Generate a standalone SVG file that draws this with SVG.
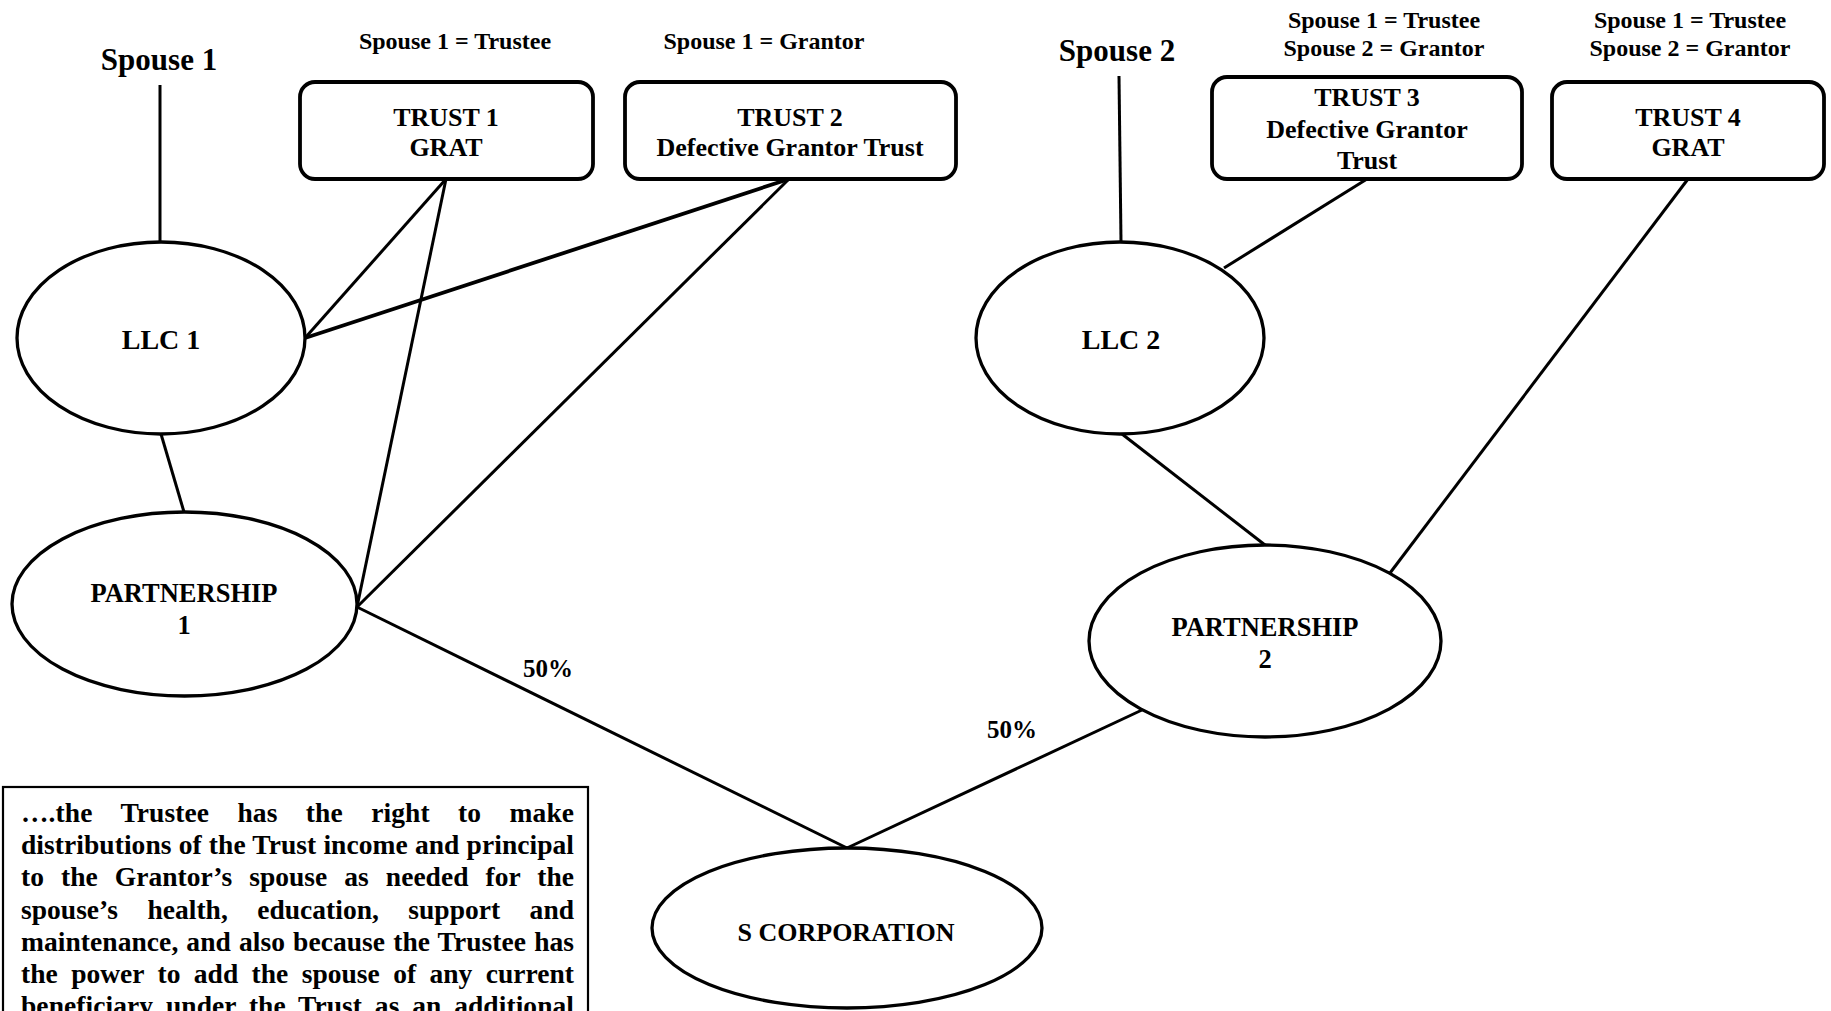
<svg xmlns="http://www.w3.org/2000/svg" width="1831" height="1011" viewBox="0 0 1831 1011">
  <style>
    .t { font-family: "Liberation Serif", "Times New Roman", serif; font-weight: bold; fill: #000; }
    .c { text-anchor: middle; }
    .box { fill: #fff; stroke: #000; stroke-width: 3.8; }
    .node { fill: #fff; stroke: #000; stroke-width: 3.3; }
    .edge { stroke: #000; stroke-width: 3; fill: none; }
    .note { fill: #fff; stroke: #000; stroke-width: 2.2; }
  </style>
  <rect width="1831" height="1011" fill="#fff"/>

  <!-- ownership connectors -->
  <g id="connectors">
    <line class="edge" x1="160" y1="85" x2="160" y2="242"/>
    <line class="edge" x1="1119" y1="76" x2="1121" y2="242"/>
    <line class="edge" x1="161" y1="434" x2="184" y2="512"/>
    <line class="edge" x1="446" y1="179" x2="305" y2="338"/>
    <line class="edge" x1="446" y1="179" x2="357" y2="607"/>
    <line class="edge" x1="789" y1="179" x2="305" y2="338" style="stroke-width:3.8"/>
    <line class="edge" x1="789" y1="179" x2="357" y2="607"/>
    <line class="edge" x1="1367" y1="179" x2="1224" y2="268"/>
    <line class="edge" x1="1688" y1="179" x2="1390" y2="573"/>
    <line class="edge" x1="1122" y1="434" x2="1265" y2="545"/>
    <line class="edge" x1="357" y1="607" x2="847" y2="848"/>
    <line class="edge" x1="1142" y1="710" x2="847" y2="848"/>
    <text class="t c" x="548" y="677" font-size="25">50%</text>
    <text class="t c" x="1012" y="738" font-size="25">50%</text>
  </g>

  <g id="spouse1">
    <text class="t c" x="159" y="70" font-size="31">Spouse 1</text>
  </g>

  <g id="trust1">
    <text class="t c" x="455" y="49" font-size="24">Spouse 1 = Trustee</text>
    <rect class="box" x="300" y="82" width="293" height="97" rx="15"/>
    <text class="t c" x="446" y="126" font-size="26">TRUST 1</text>
    <text class="t c" x="446" y="156" font-size="26">GRAT</text>
  </g>

  <g id="trust2">
    <text class="t c" x="764" y="49" font-size="24">Spouse 1 = Grantor</text>
    <rect class="box" x="625" y="82" width="331" height="97" rx="15"/>
    <text class="t c" x="790" y="126" font-size="26">TRUST 2</text>
    <text class="t c" x="790" y="156" font-size="26">Defective Grantor Trust</text>
  </g>

  <g id="spouse2">
    <text class="t c" x="1117" y="61" font-size="31">Spouse 2</text>
  </g>

  <g id="trust3">
    <text class="t c" x="1384" y="28" font-size="24">Spouse 1 = Trustee</text>
    <text class="t c" x="1384" y="56" font-size="24">Spouse 2 = Grantor</text>
    <rect class="box" x="1212" y="77" width="310" height="102" rx="15"/>
    <text class="t c" x="1367" y="106" font-size="26">TRUST 3</text>
    <text class="t c" x="1367" y="138" font-size="26">Defective Grantor</text>
    <text class="t c" x="1367" y="169" font-size="26">Trust</text>
  </g>

  <g id="trust4">
    <text class="t c" x="1690" y="28" font-size="24">Spouse 1 = Trustee</text>
    <text class="t c" x="1690" y="56" font-size="24">Spouse 2 = Grantor</text>
    <rect class="box" x="1552" y="82" width="272" height="97" rx="15"/>
    <text class="t c" x="1688" y="126" font-size="26">TRUST 4</text>
    <text class="t c" x="1688" y="156" font-size="26">GRAT</text>
  </g>

  <g id="llc1">
    <ellipse class="node" cx="161" cy="338" rx="144" ry="96"/>
    <text class="t c" x="161" y="349" font-size="28">LLC 1</text>
  </g>

  <g id="partnership1">
    <ellipse class="node" cx="184.5" cy="604" rx="172.5" ry="92"/>
    <text class="t c" x="184" y="602" font-size="26.5">PARTNERSHIP</text>
    <text class="t c" x="184" y="634" font-size="26.5">1</text>
  </g>

  <g id="llc2">
    <ellipse class="node" cx="1120" cy="338" rx="144" ry="96"/>
    <text class="t c" x="1121" y="349" font-size="28">LLC 2</text>
  </g>

  <g id="partnership2">
    <ellipse class="node" cx="1265" cy="641" rx="176" ry="96"/>
    <text class="t c" x="1265" y="636" font-size="26.5">PARTNERSHIP</text>
    <text class="t c" x="1265" y="668" font-size="26.5">2</text>
  </g>

  <g id="scorp">
    <ellipse class="node" cx="847" cy="928" rx="195" ry="80"/>
    <text class="t c" x="846" y="941" font-size="26">S CORPORATION</text>
  </g>

  <!-- justified quotation, running off the bottom edge -->
  <g id="note">
    <rect class="note" x="3" y="787" width="585" height="260"/>
    <g class="t" font-size="27.5">
      <text x="21" y="822" word-spacing="21.5" textLength="553" lengthAdjust="spacing">….the Trustee has the right to make</text>
      <text x="21" y="854" word-spacing="0.2" textLength="553" lengthAdjust="spacing">distributions of the Trust income and principal</text>
      <text x="21" y="886" word-spacing="10.1" textLength="553" lengthAdjust="spacing">to the Grantor’s spouse as needed for the</text>
      <text x="21" y="919" word-spacing="22.5" textLength="553" lengthAdjust="spacing">spouse’s health, education, support and</text>
      <text x="21" y="951" word-spacing="1.1" textLength="553" lengthAdjust="spacing">maintenance, and also because the Trustee has</text>
      <text x="21" y="983" word-spacing="6.5" textLength="553" lengthAdjust="spacing">the power to add the spouse of any current</text>
      <text x="21" y="1015" word-spacing="5.8" textLength="553" lengthAdjust="spacing">beneficiary under the Trust as an additional</text>
    </g>
  </g>
</svg>
